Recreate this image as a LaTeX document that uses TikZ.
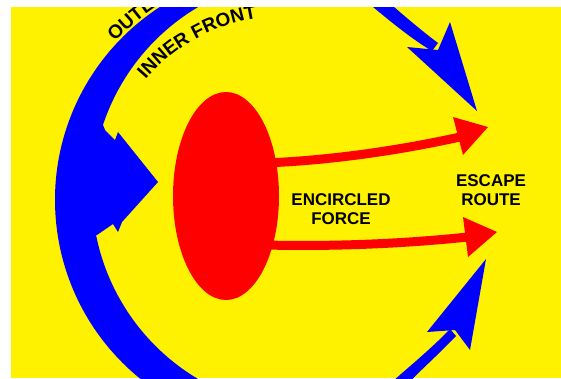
\documentclass[tikz,border=0pt]{standalone}
\usepackage{fontspec}
\setmainfont{Liberation Sans}
\usetikzlibrary{positioning,shapes.geometric,decorations.text}

\tikzset{
  front/.style={fill=blue,draw=none},
  force/.style={fill=red,draw=none},
  breakout/.style={draw=red,line width=9pt},
  lbl/.style={font=\bfseries\fontsize{17}{19}\selectfont,align=center,inner sep=0pt},
}

\begin{document}
\begin{tikzpicture}[x=1pt,y=1pt]
  \useasboundingbox (0,0) rectangle (561,-378);
  \fill[white] (0,0) rectangle (561,-378);
  \fill[yellow] (11,-7) rectangle (561,-378);
  \coordinate (oc) at (285,-200);
  \coordinate (ic) at (308,-193);
  \begin{scope}
    \clip (11,-7) rectangle (561,-378);
    % outer and inner front
    \fill[front] (oc) ++(95:230) arc[start angle=95,end angle=265,radius=230]
      -- ([shift={(265:216)}]ic) arc[start angle=265,end angle=95,radius=216] -- cycle;
    \fill[front] (80,-125) -- (103,-125) -- (105,-130) -- (115,-140) -- (118,-132)
      -- (158,-182) -- (122,-222) -- (118,-232) -- (113,-224) -- (97,-235) -- (80,-240) -- cycle;
    \path[decorate,decoration={text along path,text align=left,
      text={|\bfseries\fontsize{19}{20}\selectfont|OUTER FRONT}}]
      (oc) ++(137:232) arc[start angle=137,end angle=60,radius=232];
    \path[decorate,decoration={text along path,text align=center,
      text={|\bfseries\fontsize{19}{20}\selectfont|INNER FRONT}}]
      (oc) ++(150:184) arc[start angle=150,end angle=88,radius=184];
    % flanking arrows
    \fill[front] (367,-2) .. controls (385,-17) and (410,-38) .. (432,-51)
      -- (438,-43) .. controls (418,-28) and (395,-8) .. (377,8) -- cycle;
    \fill[front] (477,-111) -- (407,-47) -- (438,-50) -- (450,-22) -- cycle;
    \fill[front] (392,-382) .. controls (405,-370) and (430,-350) .. (450,-329)
      -- (456,-336) .. controls (435,-358) and (415,-375) .. (400,-392) -- cycle;
    \fill[front] (486,-259) -- (427,-332) -- (455,-330) -- (470,-350) -- cycle;
  \end{scope}
  % encircled force and breakout
  \coordinate (exitA) at (460,-137);
  \coordinate (exitB) at (468,-237);
  \draw[breakout] (265,-163) .. controls (340,-160) and (410,-148) .. (exitA);
  \draw[breakout] (265,-245) .. controls (350,-247) and (420,-242) .. (exitB);
  \fill[force] (488,-127) -- (453,-117) -- (463,-155) -- cycle;
  \fill[force] (497,-232) -- (463,-217) -- (468,-257) -- cycle;
  \node[force,ellipse,minimum width=106pt,minimum height=208pt,inner sep=0pt] (pocket) at (226,-196) {};
  \node[lbl] (encircled) at (341,-209) {ENCIRCLED\\FORCE};
  \node[lbl] (escape) at (491,-190) {ESCAPE\\ROUTE};
\end{tikzpicture}
\end{document}
